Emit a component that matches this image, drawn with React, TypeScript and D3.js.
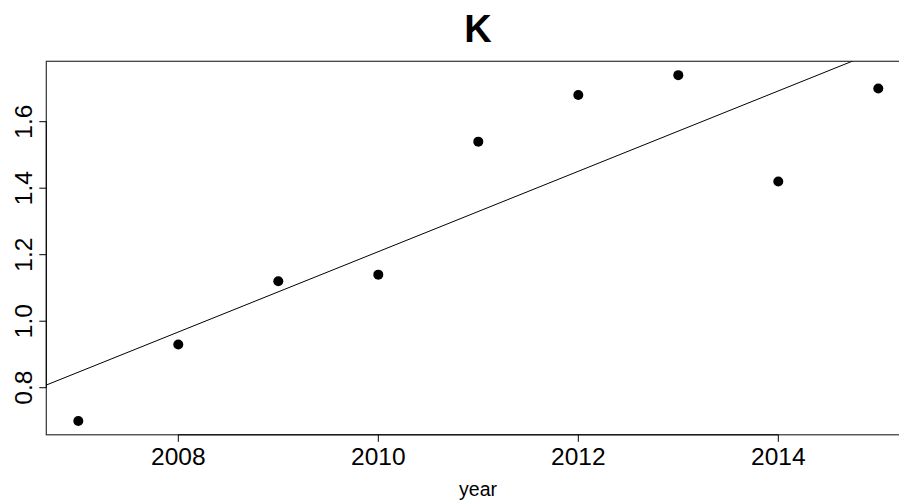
import React from "react";
import * as d3 from "d3";

const years = [2007, 2008, 2009, 2010, 2011, 2012, 2013, 2014, 2015];
const values = [0.70, 0.93, 1.12, 1.14, 1.54, 1.68, 1.74, 1.42, 1.70];
const xTicks = [2008, 2010, 2012, 2014];
const yTicks = [0.8, 1.0, 1.2, 1.4, 1.6];
const title = "K";
const xLabel = "year";

const W = 899;
const H = 502;
const FONT = "'Liberation Sans', Arial, Helvetica, sans-serif";

export default function App() {
  const xmin = d3.min(years)!, xmax = d3.max(years)!;
  const ymin = d3.min(values)!, ymax = d3.max(values)!;
  const xpad = (xmax - xmin) * 0.04;
  const ypad = (ymax - ymin) * 0.04;
  const x = d3.scaleLinear().domain([xmin - xpad, xmax + xpad]).range([46.3, 910.3]);
  const y = d3.scaleLinear().domain([ymin - ypad, ymax + ypad]).range([434.8, 61.3]);

  // least-squares fit (abline(lm(...)))
  const mx = d3.mean(years)!;
  const my = d3.mean(values)!;
  let sxy = 0, sxx = 0;
  years.forEach((yr, i) => {
    sxy += (yr - mx) * (values[i] - my);
    sxx += (yr - mx) * (yr - mx);
  });
  const slope = sxy / sxx;
  const icpt = my - slope * mx;
  const [d0, d1] = x.domain();
  const line = d3.line<number>().x((d) => x(d)).y((d) => y(icpt + slope * d));

  const [px0, px1] = x.range();
  const [py0, py1] = y.range();

  return (
    <svg width={W} height={H} style={{ position: "absolute", left: 0, top: 0, background: "#fff" }}>
      <defs>
        <clipPath id="plotclip">
          <rect x={px0} y={py1} width={px1 - px0} height={py0 - py1} />
        </clipPath>
      </defs>
      <rect x={0} y={0} width={W} height={H} fill="#fff" />
      <text x={478} y={42} textAnchor="middle" fontFamily={FONT} fontWeight="bold" fontSize={38}>
        {title}
      </text>
      {/* box */}
      <rect x={px0} y={py1} width={px1 - px0} height={py0 - py1} fill="none" stroke="#333" strokeWidth={1.2} />
      {/* regression line */}
      <path d={line([d0, d1]) || ""} fill="none" stroke="#000" strokeWidth={1} clipPath="url(#plotclip)" />
      {/* points */}
      {years.map((yr, i) => (
        <circle key={yr} cx={x(yr)} cy={y(values[i])} r={5} fill="#000" />
      ))}
      {/* x axis */}
      <line x1={x(xTicks[0])} x2={x(xTicks[xTicks.length - 1])} y1={py0} y2={py0} stroke="#000" />
      {xTicks.map((t) => (
        <g key={t}>
          <line x1={x(t)} x2={x(t)} y1={py0} y2={py0 + 7} stroke="#000" />
          <text x={x(t)} y={465} textAnchor="middle" fontFamily={FONT} fontSize={24.5}>
            {t}
          </text>
        </g>
      ))}
      {/* y axis */}
      <line x1={px0} x2={px0} y1={y(yTicks[0])} y2={y(yTicks[yTicks.length - 1])} stroke="#000" />
      {yTicks.map((t) => (
        <g key={t}>
          <line x1={px0 - 7} x2={px0} y1={y(t)} y2={y(t)} stroke="#000" />
          <text
            transform={`translate(32,${y(t)}) rotate(-90)`}
            textAnchor="middle"
            fontFamily={FONT}
            fontSize={24.5}
          >
            {t.toFixed(1)}
          </text>
        </g>
      ))}
      <text x={478} y={496} textAnchor="middle" fontFamily={FONT} fontSize={19.5}>
        {xLabel}
      </text>
    </svg>
  );
}
